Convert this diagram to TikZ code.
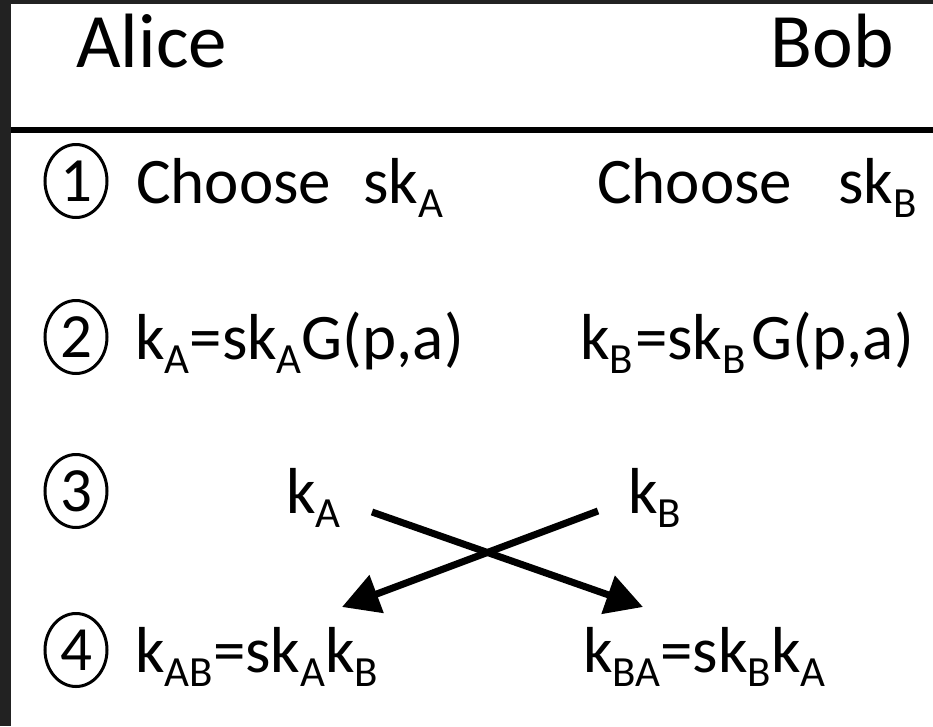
\documentclass[tikz,border=0pt]{standalone}
\usepackage{fontspec}
\setmainfont{Carlito}
\usetikzlibrary{arrows.meta,shapes.geometric}
\definecolor{framec}{HTML}{222222}
\newcommand{\sbs}[1]{\raisebox{-14pt}{\fontsize{43pt}{43pt}\selectfont #1}}
\begin{document}
\begin{tikzpicture}[x=1pt,y=-1pt,
  hdr/.style={inner sep=0pt, font=\fontsize{77pt}{80pt}\selectfont},
  txt/.style={inner sep=0pt, font=\fontsize{65pt}{70pt}\selectfont},
  num/.style={draw, line width=3pt, ellipse, inner sep=0pt, minimum width=62pt, minimum height=73pt, font=\fontsize{63pt}{70pt}\selectfont},
  arr/.style={line width=7pt, -{Triangle[length=37pt,width=39pt]}}]
\useasboundingbox (0,0) rectangle (933,726);
\fill[white] (0,0) rectangle (933,726);
\fill[framec] (0,0) rectangle (11,726);
\fill[framec] (0,0) rectangle (933,4);
\draw[line width=6pt] (11,130) -- (933,130);
% headers
\node[hdr, anchor=base west] (alice) at (76,67) {Alice};
\node[hdr, anchor=base east] (bob) at (894,67) {Bob};
% step numbers
\node[num] (n1) at (76,181) {1};
\node[num] (n2) at (76,337) {2};
\node[num] (n3) at (76,491) {3};
\node[num] (n4) at (76,650) {4};
% row 1
\node[txt, anchor=base west] (c1a) at (136,203) {Choose\hspace{32pt}sk\sbs{A}};
\node[txt, anchor=base west] (c1b) at (597,203) {Choose\hspace{46pt}sk\sbs{B}};
% row 2
\node[txt, anchor=base west] (c2a) at (135,359) {k\sbs{A}=sk\sbs{A}G(p,a)};
\node[txt, anchor=base west] (c2b) at (580,359) {k\sbs{B}\hspace{2pt}=sk\sbs{B}\hspace{6pt}G(p,a)};
% row 3
\node[txt, anchor=base west] (ka) at (286,513) {k\sbs{A}};
\node[txt, anchor=base west] (kb) at (628,513) {k\sbs{B}};
% row 4
\node[txt, anchor=base west] (c4a) at (135,672) {k\sbs{AB}=sk\sbs{A}k\sbs{B}};
\node[txt, anchor=base west] (c4b) at (583,672) {k\sbs{BA}=sk\sbs{B}k\sbs{A}};
% arrows
\coordinate (a1s) at (372,512);
\coordinate (a1e) at (643,607);
\coordinate (a2s) at (598,511);
\coordinate (a2e) at (342,607);
\draw[arr] (a1s) -- (a1e);
\draw[arr] (a2s) -- (a2e);
\end{tikzpicture}
\end{document}
